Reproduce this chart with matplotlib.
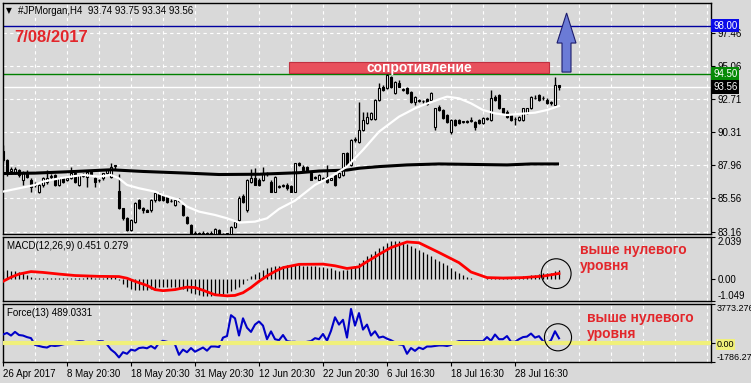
import matplotlib
matplotlib.use('Agg')
import matplotlib.pyplot as plt
from matplotlib.patches import Rectangle, Polygon
import numpy as np

plt.rcParams['font.family'] = ['Liberation Sans', 'DejaVu Sans']

# ---------------- data ----------------
opens = [
    89.0, 88.32, 87.5, 87.36, 87.6, 86.9, 87.48, 86.88, 86.6, 86.04,
    86.52, 86.76, 87.12, 87.24, 86.52, 87.0, 86.9, 87.0, 87.36, 86.52,
    87.2, 87.12, 87.48, 87.0, 86.85, 87.0, 87.36, 87.12, 87.9, 86.1,
    84.84, 84.12, 83.28, 83.88, 85.44, 84.84, 84.72, 84.72, 85.44, 85.92,
    85.8, 85.68, 85.4, 85.08, 85.44, 85.08, 84.24, 83.64, 83.0, 83.05,
    83.0, 83.1, 83.0, 82.93, 83.28, 82.95, 83.0, 82.93, 83.52, 84.0,
    85.7, 84.72, 86.77, 87.0, 86.9, 86.89, 87.3, 86.77, 86.05, 86.4,
    86.45, 86.53, 86.45, 86.05, 88.1, 87.85, 87.85, 87.37, 87.05, 86.89,
    86.95, 87.1, 86.9, 87.25, 87.13, 87.25, 88.8, 87.97, 89.75, 89.64,
    90.48, 91.0, 91.3, 91.3, 92.64, 93.6, 93.48, 94.3, 93.12, 93.84,
    93.35, 93.48, 93.24, 92.52, 92.6, 92.55, 92.68, 92.64, 90.72, 92.16,
    91.92, 91.56, 90.36, 91.2, 91.2, 91.05, 91.1, 91.1, 91.08, 91.2,
    90.96, 91.25, 91.2, 92.88, 93.0, 92.04, 91.8, 91.56, 91.25, 91.2,
    91.2, 91.68, 92.04, 92.75, 93.0, 92.75, 92.64, 92.45, 92.28, 93.74]
highs = [
    89.4, 88.4, 87.8, 87.85, 87.7, 87.5, 87.6, 87.0, 86.75, 86.6,
    87.1, 87.6, 87.3, 87.3, 87.1, 87.1, 87.1, 87.84, 87.45, 87.3,
    87.4, 87.55, 87.55, 87.1, 86.95, 87.4, 87.7, 88.08, 88.0, 87.3,
    84.9, 84.2, 84.1, 85.3, 85.5, 84.95, 84.8, 85.5, 86.0, 86.0,
    85.9, 85.75, 85.5, 85.5, 85.6, 85.15, 84.3, 83.7, 83.2, 83.15,
    83.2, 83.15, 83.2, 83.4, 83.35, 83.1, 83.1, 83.6, 83.95, 85.7,
    85.9, 86.95, 87.7, 87.73, 87.0, 87.85, 87.45, 86.85, 87.2, 86.55,
    86.6, 86.65, 86.5, 88.1, 88.15, 87.95, 87.9, 87.45, 87.15, 87.3,
    87.1, 87.97, 87.05, 87.3, 87.45, 88.85, 88.9, 89.8, 89.95, 92.5,
    91.8, 91.8, 91.75, 92.7, 93.84, 93.7, 94.5, 94.4, 94.0, 94.1,
    93.5, 93.55, 93.3, 92.95, 92.7, 92.65, 92.75, 93.2, 92.1, 92.25,
    92.0, 91.65, 91.3, 91.3, 91.3, 91.15, 91.2, 91.4, 91.15, 91.25,
    91.4, 91.4, 93.36, 93.0, 93.1, 92.1, 91.9, 91.6, 91.4, 91.5,
    92.1, 92.1, 92.95, 93.0, 93.1, 92.95, 92.75, 92.6, 94.32, 93.75]
lows = [
    88.2, 87.2, 87.3, 87.3, 87.1, 86.5, 87.0, 86.04, 86.4, 85.95,
    86.4, 86.6, 86.9, 86.45, 86.45, 86.7, 86.8, 86.95, 86.7, 86.45,
    87.1, 86.4, 87.15, 86.4, 86.75, 86.9, 87.3, 87.05, 87.7, 84.8,
    84.0, 83.2, 83.2, 83.8, 84.8, 84.5, 84.55, 84.6, 85.3, 85.4,
    85.4, 85.25, 85.3, 85.0, 85.3, 84.3, 83.7, 82.8, 82.8, 82.85,
    82.9, 82.85, 82.9, 82.85, 82.85, 82.85, 82.9, 82.85, 83.45, 83.9,
    85.2, 84.6, 86.7, 86.5, 86.45, 86.8, 87.2, 86.0, 86.0, 86.3,
    86.35, 86.2, 86.0, 86.0, 87.9, 87.55, 87.45, 86.85, 86.95, 86.85,
    86.9, 86.7, 86.85, 86.45, 87.05, 87.2, 87.9, 87.9, 89.65, 89.55,
    90.4, 90.9, 91.2, 91.2, 92.55, 93.3, 93.4, 93.5, 93.05, 93.55,
    93.3, 93.05, 92.45, 92.3, 92.5, 92.45, 92.25, 92.6, 90.5, 91.85,
    91.25, 91.0, 90.2, 90.8, 90.9, 91.0, 91.0, 91.05, 90.48, 90.9,
    90.9, 91.2, 91.15, 92.6, 92.0, 91.6, 91.35, 91.1, 90.85, 91.1,
    91.15, 91.6, 92.0, 92.7, 92.55, 92.65, 92.35, 92.3, 92.2, 93.34]
closes = [
    88.32, 87.36, 87.65, 87.66, 87.24, 87.36, 87.12, 86.4, 86.55, 86.52,
    87.0, 87.0, 87.2, 86.52, 87.0, 86.76, 87.0, 87.36, 86.76, 87.24,
    87.3, 87.48, 87.24, 86.76, 86.9, 87.36, 87.6, 87.84, 87.96, 84.84,
    84.12, 83.28, 84.0, 85.2, 84.84, 84.72, 84.6, 85.44, 85.92, 85.44,
    85.44, 85.32, 85.35, 85.44, 85.4, 84.36, 83.76, 82.9, 83.05, 82.95,
    83.1, 82.95, 83.1, 83.33, 82.93, 83.0, 83.05, 83.52, 83.88, 85.56,
    85.3, 86.88, 87.0, 86.53, 86.53, 87.37, 87.37, 86.05, 87.13, 86.45,
    86.5, 86.29, 86.05, 88.08, 88.0, 87.6, 87.5, 86.89, 87.1, 87.25,
    87.0, 86.77, 87.0, 86.53, 87.37, 88.8, 87.97, 89.76, 89.85, 90.48,
    91.2, 91.44, 91.68, 92.64, 93.48, 93.36, 94.44, 93.6, 93.96, 93.6,
    93.4, 93.12, 92.52, 92.88, 92.65, 92.6, 92.33, 93.12, 92.04, 91.92,
    91.32, 91.08, 91.2, 90.84, 90.96, 91.1, 91.05, 91.18, 90.72, 90.96,
    91.32, 91.32, 92.76, 92.64, 92.04, 91.68, 91.44, 91.2, 91.3, 91.44,
    92.04, 92.04, 92.88, 92.8, 92.64, 92.8, 92.4, 92.5, 93.72, 93.56]

# moving averages (bar index, value)
wma_idx = [0, 4, 8, 10, 14, 17, 20, 24, 27, 29, 31, 34, 38, 40, 44, 46, 49, 53, 56, 59,
           63, 66, 69, 73, 78, 82, 86, 90, 94, 99, 103, 105, 109, 111, 114, 117, 120, 123,
           126, 129, 133, 136, 139]
wma_val = [86.05, 86.29, 86.53, 86.77, 87.0, 87.13, 87.25, 87.13, 87.25, 87.0,
           86.53, 86.29, 86.05, 85.8, 85.45, 84.97, 84.61, 84.37, 84.13, 83.82,
           83.89, 84.13, 84.8, 85.4, 86.53, 87.13, 87.85, 89.05, 90.36, 91.44,
           92.04, 92.28, 92.69, 92.88, 92.76, 92.4, 91.92, 91.68, 91.56, 91.64,
           91.73, 91.92, 92.21]
bma_idx = [0, 8, 18, 27, 35, 46, 54, 64, 74, 79, 86, 89, 94, 101, 109, 126, 132, 139]
bma_val = [87.35, 87.38, 87.5, 87.62, 87.5, 87.38, 87.28, 87.3, 87.41, 87.53,
           87.6, 87.73, 87.85, 87.97, 88.04, 87.97, 88.04, 88.04]

macd_hist = [
    0.42, 0.45, 0.42, 0.40, 0.35, 0.30, 0.22, 0.12, 0.08, 0.06,
    0.06, 0.07, 0.08, 0.07, 0.06, 0.07, 0.08, 0.08, 0.07, 0.08,
    0.08, 0.09, 0.09, 0.08, 0.07, 0.08, 0.09, 0.10, 0.11, -0.05,
    -0.25, -0.35, -0.45, -0.5, -0.5, -0.5, -0.5, -0.45, -0.4, -0.38,
    -0.36, -0.35, -0.35, -0.35, -0.4, -0.45, -0.55, -0.65, -0.7, -0.75,
    -0.8, -0.8, -0.8, -0.78, -0.75, -0.7, -0.65, -0.55, -0.45, -0.35,
    -0.24, -0.05, 0.16, 0.25, 0.35, 0.45, 0.55, 0.6, 0.65, 0.65,
    0.65, 0.68, 0.68, 0.7, 0.68, 0.66, 0.66, 0.64, 0.62, 0.6,
    0.58, 0.55, 0.52, 0.45, 0.42, 0.45, 0.45, 0.55, 0.65, 0.8,
    0.95, 1.1, 1.2, 1.35, 1.5, 1.6, 1.75, 1.85, 1.85, 1.85,
    1.8, 1.7, 1.6, 1.5, 1.4, 1.3, 1.2, 1.1, 1.0, 0.9,
    0.8, 0.7, 0.55, 0.42, 0.3, 0.2, 0.12, 0.05, 0.02, 0.03,
    0.03, 0.05, 0.08, 0.1, 0.1, 0.08, 0.08, 0.08, 0.1, 0.12,
    0.15, 0.18, 0.2, 0.22, 0.25, 0.28, 0.3, 0.3, 0.42, 0.451]
sig_idx = [0, 2, 4, 7, 10, 14, 18, 24, 29, 31, 33, 36, 38, 40, 43, 46, 48, 50, 53, 56,
           58, 60, 62, 64, 66, 68, 70, 74, 80, 83, 86, 89, 90, 94, 97, 101, 104, 109,
           114, 117, 121, 125, 130, 135, 139]
sig_val = [-0.1, 0.1, 0.25, 0.37, 0.33, 0.25, 0.18, 0.14, 0.13, 0.05,
           -0.1, -0.3, -0.5, -0.55, -0.5, -0.38, -0.4, -0.53, -0.75, -0.8,
           -0.78, -0.65, -0.4, -0.1, 0.16, 0.38, 0.56, 0.72, 0.73, 0.65,
           0.52, 0.6, 0.73, 1.2, 1.53, 1.8, 1.76, 1.29, 0.8, 0.35,
           0.08, 0.06, 0.08, 0.15, 0.279]

force = [
    850, 1000, 750, 1100, 800, 750, 600, 500, -150, -250,
    -350, -400, -200, -250, -200, -100, 0, 50, 150, 220,
    200, 50, 0, 100, 220, 200, -100, -600, -900, -1350,
    -850, -1000, -600, -700, -450, -400, -470, -250, -500, 50,
    250, 150, 50, -100, -1100, -600, -850, -450, -800, -600,
    -400, -700, -300, -300, -350, 550, 700, 2700, 2400, 750,
    2400, 1500, 1100, 1800, 2100, 1700, 400, 1150, 400, 300,
    800, 220, 150, 150, 50, 0, 150, 220, 500, 400,
    900, 250, 1200, 2500, 1800, 2260, 550, 3300, 1700, 2900,
    1320, 1800, 750, 1160, 550, 650, 450, 300, 100, -100,
    -150, -1000, -450, -720, -400, -550, -300, -300, -250, -200,
    -200, -250, -150, 100, 220, 220, 220, 220, 220, 220,
    220, 600, 250, 850, 400, 400, 700, 150, 150, 400,
    600, 650, 940, 550, 690, 220, 0, 300, 1160, 489]

price_ticks = [97.46, 95.06, 92.71, 90.31, 87.96, 85.56, 83.16]
price_labels = ['97.46', '95.06', '92.71', '90.31', '87.96', '85.56', '83.16']
date_idx = [0, 16, 32, 48, 64, 80, 96, 112, 128]
date_labels = ['26 Apr 2017', '8 May 20:30', '18 May 20:30', '31 May 20:30', '12 Jun 20:30',
               '22 Jun 20:30', '6 Jul 16:30', '18 Jul 16:30', '28 Jul 16:30']
level_blue = 98.00
level_green = 94.50
last_price = 93.56
resist_lo, resist_hi = 94.58, 95.37

# ---------------- layout ----------------
W, H = 751, 383
BG = '#d9d9d9'
RED = '#e3262b'
fig = plt.figure(figsize=(W / 100, H / 100), dpi=100)
fig.patch.set_facecolor(BG)


def ax_px(x0, y0, x1, y1):
    return fig.add_axes([x0 / W, 1 - y1 / H, (x1 - x0) / W, (y1 - y0) / H])


def P(x, y):
    return x / W, 1 - y / H


ax = ax_px(3, 3, 711, 234)
axm = ax_px(3, 237, 711, 301)
axf = ax_px(3, 304, 711, 362)

XMAX = 177
for a in (ax, axm, axf):
    a.set_facecolor(BG)
    a.set_xlim(0, XMAX)
    for s in a.spines.values():
        s.set_color('black')
        s.set_linewidth(1)
    for g in range(8, XMAX + 1, 8):
        a.axvline(g, color='white', lw=0.8, ls=(0, (3, 3)), zorder=0)
    a.yaxis.tick_right()
    a.tick_params(axis='y', length=3, width=0.8, pad=1.5, labelsize=7, colors='black')
    a.tick_params(axis='x', length=3, width=0.8, pad=2, labelsize=7)

ax.set_xticks([])
axm.set_xticks([])

# ---- main price panel ----
ax.set_ylim(83.0, 99.62)
ax.set_yticks(price_ticks)
ax.set_yticklabels(price_labels)
for t in price_ticks:
    ax.axhline(t, color='white', lw=0.8, ls=(0, (3, 3)), zorder=0)

idx = np.arange(len(opens))
o = np.array(opens); h = np.array(highs); l = np.array(lows); c = np.array(closes)
up = c >= o
ax.vlines(idx, l, h, color='black', lw=1, zorder=3)
bot = np.minimum(o, c)
hgt = np.maximum(np.abs(c - o), 0.03)
ax.bar(idx[up], hgt[up], bottom=bot[up], width=0.55, color='white',
       edgecolor='black', lw=0.8, zorder=4)
ax.bar(idx[~up], hgt[~up], bottom=bot[~up], width=0.55, color='black',
       edgecolor='black', lw=0.8, zorder=4)

ax.plot(bma_idx, bma_val, color='black', lw=2.2, zorder=5, solid_capstyle='butt')
ax.plot(wma_idx, wma_val, color='white', lw=1.6, zorder=5)

ax.axhline(level_blue, color='#0000a0', lw=1, zorder=2)
ax.axhline(level_green, color='#008000', lw=1, zorder=2)
ax.axhline(last_price, color='white', lw=1, zorder=2)

# resistance box
ax.add_patch(Rectangle((71.5, resist_lo), 65, resist_hi - resist_lo, facecolor='#e8505c',
                       edgecolor='#c03040', lw=0.8, zorder=6))
ax.text(104, (resist_lo + resist_hi) / 2, 'сопротивление', color='white', fontsize=10,
        fontweight='bold', ha='center', va='center', zorder=7)

# blue arrow
arrow = Polygon([(139.75, 94.65), (142.0, 94.65), (142.0, 96.74), (143.25, 96.74),
                 (140.9, 98.9), (138.5, 96.74), (139.75, 96.74)],
                closed=True, facecolor='#6b7bd6', edgecolor='#1c1c6c', lw=0.8, zorder=6)
ax.add_patch(arrow)


def price_box(a, y, text, fc, tc='white'):
    a.annotate(text, xy=(1, y), xycoords=('axes fraction', 'data'), xytext=(1.5, 0),
               textcoords='offset points', ha='left', va='center', fontsize=7, color=tc,
               bbox=dict(boxstyle='square,pad=0.18', fc=fc, ec='none'),
               annotation_clip=False, zorder=10)


price_box(ax, level_blue, '98.00', '#0a0ae8')
price_box(ax, level_green, '94.50', '#078a07')
price_box(ax, last_price, '93.56', 'black')

# ---- MACD panel ----
axm.set_ylim(-1.049, 2.039)
axm.vlines(idx, 0, macd_hist, color='black', lw=0.9, zorder=2)
axm.plot(sig_idx, sig_val, color='#ff0000', lw=2, zorder=3)
axm.set_yticks([2.039, 0, -1.049])
axm.set_yticklabels(['2.039', '0.00', '-1.049'])
tl = axm.get_yticklabels()
tl[0].set_va('top'); tl[2].set_va('bottom')
axm.scatter([138.3], [0.27], s=460, facecolors='none', edgecolors='black', lw=0.8, zorder=5)

# ---- Force panel ----
axf.set_ylim(-1786.27, 3773.276)
axf.plot(idx, force, color='#0000c8', lw=1.5, zorder=3)
axf.axhline(0, color='#f0f07a', lw=3, zorder=4)
axf.set_yticks([3773.276, 0, -1786.27])
axf.set_yticklabels(['3773.276', '0.00', '-1786.27'])
axf.tick_params(axis='y', labelsize=6.5, pad=1)
tl = axf.get_yticklabels()
tl[0].set_va('top'); tl[2].set_va('bottom')
tl[1].set_bbox(dict(boxstyle='square,pad=0.1', fc='#f0f07a', ec='none'))
axf.scatter([138.75], [580], s=380, facecolors='none', edgecolors='black', lw=0.8, zorder=5)
axf.set_xticks(date_idx)
axf.set_xticklabels(date_labels)
for t in axf.get_xticklabels():
    t.set_ha('left')

# ---- texts ----
fig.text(*P(6, 11), '▼', fontsize=5.5, va='center', ha='left', family='DejaVu Sans')
fig.text(*P(18, 11), '#JPMorgan,H4  93.74 93.75 93.34 93.56', fontsize=7, va='center', ha='left')
fig.text(*P(14, 37), '7/08/2017', fontsize=12, fontweight='bold', color=RED, va='center', ha='left')
fig.text(*P(7, 246), 'MACD(12,26,9) 0.451 0.279', fontsize=7, va='center', ha='left')
fig.text(*P(7, 313), 'Force(13) 489.0331', fontsize=7, va='center', ha='left')
fig.text(*P(580, 250), 'выше нулевого', fontsize=10, fontweight='bold', color=RED, va='center', ha='left')
fig.text(*P(580, 266), 'уровня', fontsize=10, fontweight='bold', color=RED, va='center', ha='left')
fig.text(*P(587, 318), 'выше нулевого', fontsize=10, fontweight='bold', color=RED, va='center', ha='left')
fig.text(*P(587, 334), 'уровня', fontsize=10, fontweight='bold', color=RED, va='center', ha='left')

fig.savefig('out.png', dpi=100, facecolor=BG)
